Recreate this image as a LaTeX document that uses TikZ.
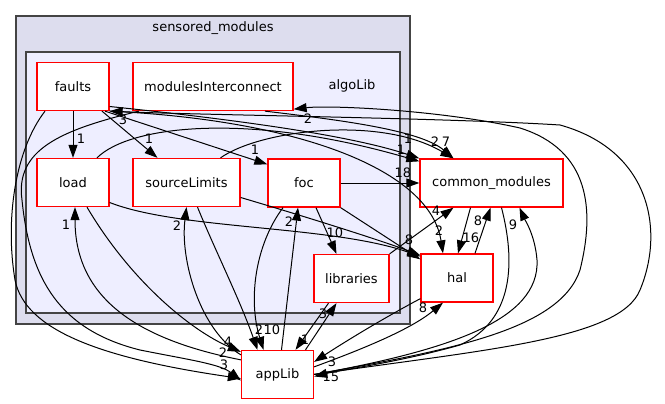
\documentclass[tikz,border=0pt]{standalone}
\usepackage{fontspec}
\setmainfont{DejaVu Sans}
\usetikzlibrary{arrows.meta}

\definecolor{outerfill}{HTML}{DDDDEE}
\definecolor{innerfill}{HTML}{EEEEFF}
\definecolor{framegray}{HTML}{444444}

\begin{document}
\begin{tikzpicture}[x=1pt,y=-1pt,
    dirbox/.style={draw=red,fill=white,line width=1.3pt,minimum width=72pt,
      minimum height=48pt,inner sep=0pt,font=\fontsize{13}{15}\selectfont},
    edge/.style={line width=1pt,-{Triangle[length=13pt,width=9pt]}},
    lbl/.style={font=\fontsize{13}{15}\selectfont,inner sep=0pt}]

    \useasboundingbox (0,0) rectangle (665,404);

    % Outer cluster (sensored_modules)
    \filldraw[fill=outerfill,draw=framegray,line width=1.6pt] (16,16) rectangle (410,324);
    \node[lbl] (sensoredLabel) at (213,28) {sensored\_modules};

    % Inner cluster (algoLib)
    \filldraw[fill=innerfill,draw=framegray,line width=1.6pt] (26,52) rectangle (400,313);
    \node[lbl] (algoLabel) at (352,86) {algoLib};

    % Directories
    \node[dirbox] (faults) at (73,86.5) {faults};
    \node[dirbox,minimum width=160pt] (modulesInterconnect) at (213,86.5) {modulesInterconnect};
    \node[dirbox] (load) at (73,182.5) {load};
    \node[dirbox,minimum width=107pt] (sourceLimits) at (186.5,182.5) {sourceLimits};
    \node[dirbox] (foc) at (304,183) {foc};
    \node[dirbox,minimum width=75pt] (libraries) at (351.5,278.5) {libraries};
    \node[dirbox,minimum width=143pt] (commonModules) at (491.5,183) {common\_modules};
    \node[dirbox] (hal) at (457,278) {hal};
    \node[dirbox] (appLib) at (277.5,374.5) {appLib};

    % faults
    \draw[edge] (faults.south) -- (load.north) node[lbl] at (81,139) {1};
    \draw[edge] ([xshift=29pt]faults.south) -- ([xshift=-29pt]sourceLimits.north)
        node[lbl] at (149,139) {1};
    \draw[edge] ([xshift=32pt]faults.south) -- ([yshift=-6pt]foc.north west)
        node[lbl] at (255,150) {1};
    \draw[edge] ([yshift=-20pt]faults.east) .. controls (200,116) and (340,132) .. (commonModules.north west)
        node[lbl] at (408,139) {1};
    \draw[edge] (faults.south east) .. controls (300,120) and (430,170) .. ([xshift=-14pt]hal.north)
        node[lbl] at (439,231) {2};
    \draw[edge] ([xshift=-28pt]faults.south) .. controls (15,150) and (5,220) .. (15,280)
        .. controls (25,330) and (100,358) .. ([yshift=-4pt]appLib.west)
        node[lbl] at (224,365) {3};

    % modulesInterconnect
    \draw[edge] ([xshift=52pt]modulesInterconnect.south) .. controls (340,120) and (420,130) .. ([xshift=-38pt]commonModules.north)
        node[lbl] at (446,142) {7};
    \draw[edge] ([xshift=-74pt]modulesInterconnect.south) .. controls (60,130) and (15,150) .. (22,200)
        .. controls (30,280) and (60,330) .. (140,350)
        .. controls (190,360) and (220,364) .. ([yshift=-6pt]appLib.west)
        node[lbl] at (223,353) {2};

    % load
    \draw[edge] ([xshift=24pt]load.north) .. controls (130,125) and (250,112) .. ([yshift=-3pt]commonModules.north west)
        node[lbl] at (401,150) {1};
    \draw[edge] ([yshift=-20pt]load.east) .. controls (180,230) and (330,225) .. ([yshift=-3pt]hal.north west)
        node[lbl] at (409,240) {8};
    \draw[edge] ([xshift=14pt]load.south) .. controls (130,280) and (190,330) .. ([yshift=-2pt]appLib.north west)
        node[lbl] at (228,342) {4};

    % sourceLimits
    \draw[edge] ([xshift=34pt]sourceLimits.north) .. controls (260,130) and (380,115) .. ([xshift=-38pt]commonModules.north)
        node[lbl] at (435,142) {2};
    \draw[edge] ([yshift=-15pt]sourceLimits.east) .. controls (300,215) and (380,240) .. ([yshift=-2pt]hal.north west);
    \draw[edge] ([xshift=11pt]sourceLimits.south) .. controls (215,250) and (240,300) .. ([xshift=-20pt]appLib.north)
        node[lbl] at (259,330) {2};

    % foc
    \draw[edge] (foc.east) -- (commonModules.west) node[lbl] at (403,173) {18};
    \draw[edge] ([xshift=12pt]foc.south) -- ([xshift=-15pt]libraries.north) node[lbl] at (335,233) {10};
    \draw[edge] (foc.south east) -- ([yshift=-6pt]hal.north west);
    \draw[edge] ([xshift=-21pt]foc.south) .. controls (255,245) and (248,300) .. ([xshift=-14pt]appLib.north)
        node[lbl] at (272,330) {10};

    % libraries
    \draw[edge] (libraries.north east) -- ([xshift=-38pt]commonModules.south) node[lbl] at (436,211) {4};
    \draw[edge] ([xshift=-23pt]libraries.south) -- ([xshift=18pt]appLib.north) node[lbl] at (305,340) {1};

    % hal
    \draw[edge] ([xshift=18pt]hal.north) -- ([xshift=-1pt]commonModules.south) node[lbl] at (478,221) {8};
    \draw[edge] ([yshift=4pt]hal.south west) .. controls (380,320) and (340,345) .. ([yshift=-12pt]appLib.north east)
        node[lbl] at (332,362) {3};

    % common_modules
    \draw[edge] ([xshift=-21pt]commonModules.south) -- ([xshift=1pt]hal.north) node[lbl] at (471,238) {16};
    \draw[edge] ([xshift=10pt]commonModules.south) .. controls (515,260) and (515,320) .. (460,345)
        .. controls (400,362) and (340,370) .. ([yshift=-2pt]appLib.east)
        node[lbl] at (331,377) {15};

    % appLib
    \draw[edge] ([yshift=-10pt]appLib.north west) .. controls (140,340) and (75,300) .. ([xshift=2pt]load.south)
        node[lbl] at (66,225) {1};
    \draw[edge] ([yshift=-5pt]appLib.north west) .. controls (200,330) and (180,260) .. (sourceLimits.south)
        node[lbl] at (177,226) {2};
    \draw[edge] ([xshift=4pt]appLib.north) -- ([xshift=-6pt]foc.south) node[lbl] at (289,222) {2};
    \draw[edge] ([xshift=28pt]appLib.north) -- ([xshift=-15pt]libraries.south) node[lbl] at (323,314) {3};
    \draw[edge] ([yshift=-17pt]appLib.north east) .. controls (360,350) and (410,330) .. ([xshift=-14pt]hal.south)
        node[lbl] at (423,308) {8};
    \draw[edge] (appLib.east) .. controls (450,350) and (540,320) .. (537,260)
        .. controls (535,235) and (525,220) .. ([xshift=28pt]commonModules.south)
        node[lbl] at (513,225) {9};
    \draw[edge] (appLib.east) .. controls (450,350) and (560,330) .. (580,270)
        .. controls (595,210) and (590,150) .. (520,128)
        .. controls (440,110) and (330,105) .. ([yshift=2pt]modulesInterconnect.south east)
        node[lbl] at (308,119) {2};
    \draw[edge] (appLib.east) .. controls (480,350) and (620,340) .. (640,290)
        .. controls (665,230) and (650,150) .. (560,125)
        .. controls (450,118) and (200,115) .. (faults.south east)
        node[lbl] at (123,120) {3};

\end{tikzpicture}
\end{document}
